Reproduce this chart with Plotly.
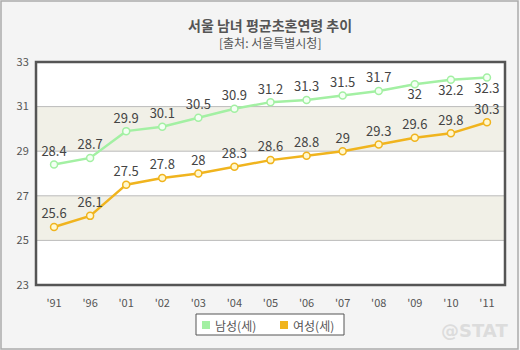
import plotly.graph_objects as go

years = ["'91", "'96", "'01", "'02", "'03", "'04", "'05", "'06", "'07", "'08", "'09", "'10", "'11"]
male = [28.4, 28.7, 29.9, 30.1, 30.5, 30.9, 31.2, 31.3, 31.5, 31.7, 32, 32.2, 32.3]
female = [25.6, 26.1, 27.5, 27.8, 28, 28.3, 28.6, 28.8, 29, 29.3, 29.6, 29.8, 30.3]
male_pos = ["top center"] * 10 + ["bottom center"] * 3
female_pos = ["top center"] * 13
y_ticks = [23, 25, 27, 29, 31, 33]
bands = [(25, 27), (29, 31)]
series_names = ["남성(세)", "여성(세)"]

FONT = "Noto Sans CJK KR"
green = "#a3f0a3"
orange = "#f0b41e"

W, H = 469, 223  # plot area size in px
def px(x):
    return (x - 36) / W
def py(y):
    return (285 - y) / H

fig = go.Figure()
fig.add_trace(go.Scatter(
    x=years, y=male, mode="lines+markers+text", text=[f"{v:g}" for v in male],
    textposition=male_pos, textfont=dict(size=13, color="#444", family=FONT),
    line=dict(color=green, width=2.5),
    marker=dict(size=7, color="#f4fff4", line=dict(color=green, width=1.5)),
    showlegend=False, cliponaxis=False))
fig.add_trace(go.Scatter(
    x=years, y=female, mode="lines+markers+text", text=[f"{v:g}" for v in female],
    textposition=female_pos, textfont=dict(size=13, color="#444", family=FONT),
    line=dict(color=orange, width=2.5),
    marker=dict(size=7, color="#fff8d0", line=dict(color=orange, width=1.5)),
    showlegend=False, cliponaxis=False))

shapes = []
for lo, hi in bands:
    shapes.append(dict(type="rect", xref="paper", yref="y", x0=0, x1=1, y0=lo, y1=hi,
                       fillcolor="#f1f0e7", line=dict(width=0), layer="below"))
for t in y_ticks[1:-1]:
    shapes.append(dict(type="line", xref="paper", yref="y", x0=0, x1=1, y0=t, y1=t,
                       line=dict(color="#bbbbbb", width=1), layer="below"))
shapes.append(dict(type="rect", xref="paper", yref="paper", x0=0, x1=1, y0=0, y1=1,
                   line=dict(color="#555555", width=2.5)))
# outer border
shapes.append(dict(type="rect", xref="paper", yref="paper",
                   x0=px(1), x1=px(518), y0=py(349), y1=py(1),
                   line=dict(color="#aaaaaa", width=1.5)))
# legend box
shapes.append(dict(type="rect", xref="paper", yref="paper",
                   x0=px(196), x1=px(344), y0=py(335), y1=py(314),
                   fillcolor="#ffffff", line=dict(color="#555555", width=1)))
legend_items = [(202, series_names[0], green), (280, series_names[1], orange)]
annotations = []
for lx, name, col in legend_items:
    shapes.append(dict(type="rect", xref="paper", yref="paper",
                       x0=px(lx), x1=px(lx + 8), y0=py(329), y1=py(321),
                       fillcolor=col, line=dict(width=0)))
    annotations.append(dict(text=name, xref="paper", yref="paper",
                            x=px(lx + 11), y=py(325), xanchor="left", yanchor="middle",
                            showarrow=False, font=dict(size=12, color="#555", family=FONT)))

annotations += [
    dict(text="<b>서울 남녀 평균초혼연령 추이</b>", xref="paper", yref="paper",
         x=px(270), y=py(25), xanchor="center", yanchor="middle",
         showarrow=False, font=dict(size=14, color="#555", family=FONT)),
    dict(text="[출처: 서울특별시청]", xref="paper", yref="paper",
         x=px(270), y=py(43), xanchor="center", yanchor="middle",
         showarrow=False, font=dict(size=12, color="#555", family=FONT)),
    dict(text="<b>@STAT</b>", xref="paper", yref="paper",
         x=px(510), y=py(330), xanchor="right", yanchor="middle",
         showarrow=False, font=dict(size=18, color="#dcdcdc", family="DejaVu Sans")),
]

fig.update_layout(
    width=520, height=350,
    margin=dict(l=36, r=15, t=62, b=65, autoexpand=False),
    paper_bgcolor="#f4f4f4", plot_bgcolor="#ffffff",
    font=dict(family=FONT, color="#555"),
    shapes=shapes,
    xaxis=dict(type="category", range=[-0.5, 12.5], showgrid=False, zeroline=False,
               tickfont=dict(size=11, color="#555"), ticks="outside", ticklen=8,
               tickcolor="rgba(0,0,0,0)", fixedrange=True),
    yaxis=dict(range=[23, 33], tickvals=y_ticks, showgrid=False, zeroline=False,
               tickfont=dict(size=11, color="#555"), ticks="outside", ticklen=4,
               tickcolor="rgba(0,0,0,0)", fixedrange=True),
    showlegend=False,
    annotations=annotations,
)
fig.write_html("out.html")
